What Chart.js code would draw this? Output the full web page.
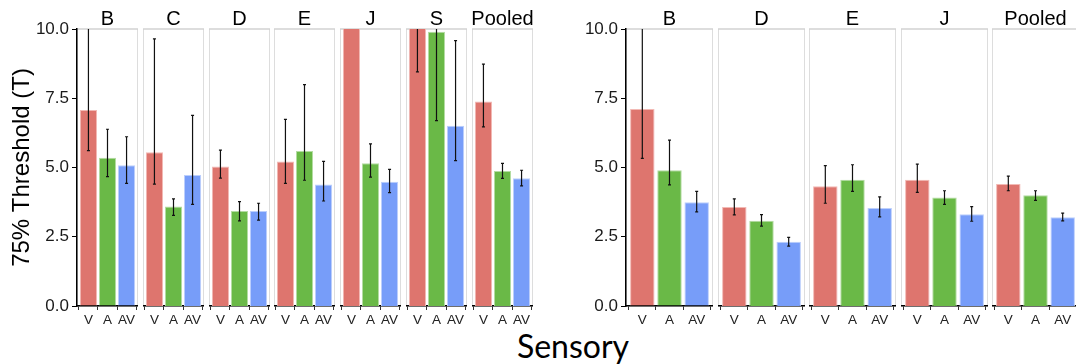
<!DOCTYPE html>
<html>
<head>
<meta charset="utf-8">
<script src="https://cdn.jsdelivr.net/npm/chart.js@4/dist/chart.umd.min.js"></script>
<style>
  html, body { margin: 0; padding: 0; background: #fff; overflow: hidden; }
  #wrap { position: relative; width: 1076px; height: 364px; overflow: hidden; }
  #wrap canvas { position: absolute; top: 0; }
  #xtitle {
    position: absolute; left: 473px; width: 200px; top: 330px;
    text-align: center; font-family: Lato, sans-serif; font-size: 32px; line-height: 32px; color: #000;
  }
</style>
</head>
<body>
<div id="wrap">
  <div id="xtitle">Sensory</div>
</div>
<script>
// conditions on the x axis of every facet
const sensory = ['V', 'A', 'AV'];
const barColors = ['#de756e', '#6ab947', '#779df9'];
const barEdges = ['#f2b9b4', '#b4dca3', '#bccffc'];
const yTicks = [0, 2.5, 5, 7.5, 10];

// left panel: per subject + pooled, values per facet are [V, A, AV]
const leftFacets = ['B', 'C', 'D', 'E', 'J', 'S', 'Pooled'];
const leftMeans = [
  [7.08, 5.35, 5.08],
  [5.55, 3.59, 4.73],
  [5.04, 3.43, 3.43],
  [5.22, 5.60, 4.39],
  [11.5, 5.15, 4.49],
  [10.6, 9.90, 6.51],
  [7.38, 4.87, 4.61]
];
const leftLow = [
  [5.61, 4.67, 4.43],
  [4.40, 3.27, 3.67],
  [4.62, 3.07, 3.10],
  [4.43, 4.54, 3.79],
  [10.4, 4.65, 4.09],
  [8.45, 6.69, 5.25],
  [6.47, 4.61, 4.34]
];
const leftHigh = [
  [11.2, 6.38, 6.11],
  [9.64, 3.87, 6.88],
  [5.63, 3.77, 3.71],
  [6.74, 7.99, 5.22],
  [12.6, 5.85, 4.93],
  [12.5, 12.0, 9.58],
  [8.73, 5.15, 4.90]
];

// right panel
const rightFacets = ['B', 'D', 'E', 'J', 'Pooled'];
const rightMeans = [
  [7.11, 4.90, 3.75],
  [3.57, 3.08, 2.32],
  [4.32, 4.56, 3.54],
  [4.56, 3.92, 3.31],
  [4.40, 4.00, 3.20]
];
const rightLow = [
  [5.33, 4.37, 3.40],
  [3.29, 2.88, 2.16],
  [3.71, 4.14, 3.22],
  [4.10, 3.67, 3.06],
  [4.16, 3.81, 3.07]
];
const rightHigh = [
  [11.0, 5.99, 4.14],
  [3.87, 3.30, 2.48],
  [5.07, 5.10, 3.94],
  [5.12, 4.16, 3.59],
  [4.69, 4.16, 3.35]
];

Chart.defaults.font.family = '"Liberation Sans", Arial, sans-serif';

// gray facet box + strip label + error bars
const facetPlugin = {
  id: 'facet',
  beforeDraw(chart, args, opts) {
    const { ctx, chartArea: a } = chart;
    ctx.save();
    ctx.strokeStyle = '#d2d2d2';
    ctx.lineWidth = 1.5;
    ctx.strokeRect(a.left, a.top, a.right - a.left, a.bottom - a.top);
    ctx.restore();
  },
  afterDatasetsDraw(chart, args, opts) {
    const { ctx, chartArea: a, scales: { x, y } } = chart;
    ctx.save();
    ctx.beginPath();
    ctx.rect(a.left, a.top, a.right - a.left, a.bottom - a.top);
    ctx.clip();
    ctx.strokeStyle = '#111';
    ctx.lineWidth = 1.2;
    opts.low.forEach((lo, i) => {
      const px = x.getPixelForValue(i);
      const y0 = y.getPixelForValue(lo);
      const y1 = y.getPixelForValue(opts.high[i]);
      ctx.beginPath();
      ctx.moveTo(px, y0); ctx.lineTo(px, y1);
      ctx.moveTo(px - 1.5, y0); ctx.lineTo(px + 1.5, y0);
      ctx.moveTo(px - 1.5, y1); ctx.lineTo(px + 1.5, y1);
      ctx.stroke();
    });
    ctx.restore();
  },
  afterDraw(chart, args, opts) {
    const { ctx, chartArea: a } = chart;
    ctx.save();
    ctx.fillStyle = '#000';
    ctx.font = '20px "Liberation Sans", Arial, sans-serif';
    ctx.textAlign = 'center';
    ctx.textBaseline = 'alphabetic';
    ctx.fillText(opts.label, (a.left + a.right) / 2, 25);
    ctx.restore();
  }
};

function makeFacet(left, width, axisWidth, label, means, low, high, yTitle) {
  const canvas = document.createElement('canvas');
  canvas.width = width + axisWidth;
  canvas.height = 330;
  canvas.style.left = (left - axisWidth) + 'px';
  document.getElementById('wrap').appendChild(canvas);

  const showAxis = axisWidth > 0;
  new Chart(canvas, {
    type: 'bar',
    data: {
      datasets: [{
        data: sensory.map((s, i) => ({ x: i, y: means[i] })),
        backgroundColor: barColors,
        borderColor: barEdges,
        borderWidth: 1,
        barPercentage: 0.9,
        categoryPercentage: 1
      }]
    },
    options: {
      responsive: false,
      animation: false,
      devicePixelRatio: 1,
      layout: { padding: { top: 29, left: 0, right: 0, bottom: 0 } },
      plugins: {
        legend: { display: false },
        tooltip: { enabled: false },
        facet: { label: label, low: low, high: high }
      },
      scales: {
        x: {
          type: 'linear',
          min: -0.6,
          max: 2.6,
          offset: false,
          afterBuildTicks: s => { s.ticks = sensory.map((_, i) => ({ value: i })); },
          afterFit: s => { s.height = 24; },
          ticks: {
            callback: v => sensory[v],
            font: { size: 13.5 },
            color: '#222',
            padding: 2,
            autoSkip: false,
            maxRotation: 0
          },
          grid: { drawOnChartArea: false, tickLength: 4, color: '#333', lineWidth: 1 },
          border: { color: '#000', width: 1.5 }
        },
        y: {
          display: showAxis,
          min: 0,
          max: 10,
          afterBuildTicks: s => { s.ticks = yTicks.map(v => ({ value: v })); },
          afterFit: s => { s.width = axisWidth; },
          ticks: {
            callback: v => v.toFixed(1),
            font: { size: 17 },
            color: '#1a1a1a',
            padding: 3
          },
          grid: { drawOnChartArea: false, tickLength: 5, color: '#000', lineWidth: 1 },
          border: { color: '#000', width: 1.5 },
          title: {
            display: !!yTitle,
            text: yTitle || '',
            font: { size: 24 },
            color: '#000',
            padding: { top: 8, bottom: 0 }
          }
        }
      }
    },
    plugins: [facetPlugin]
  });
}

// left panel facets
leftFacets.forEach((name, i) => {
  const left = Math.round(77 + i * 65.8);
  const axisWidth = i === 0 ? 77 : 0;
  makeFacet(left, 61, axisWidth, name, leftMeans[i], leftLow[i], leftHigh[i], i === 0 ? '75% Threshold (T)' : null);
});

// right panel facets
rightFacets.forEach((name, i) => {
  const left = Math.round(626 + i * 91.5);
  const axisWidth = i === 0 ? 66 : 0;
  makeFacet(left, 87, axisWidth, name, rightMeans[i], rightLow[i], rightHigh[i], null);
});
</script>
</body>
</html>
